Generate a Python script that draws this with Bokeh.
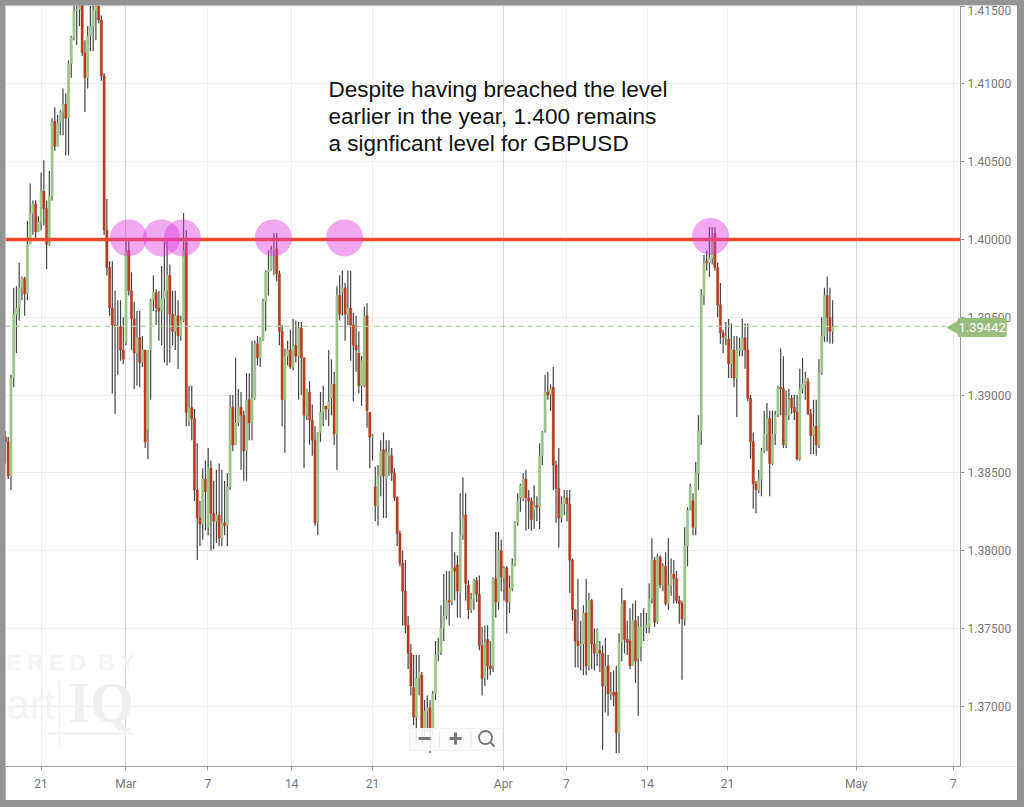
from bokeh.plotting import figure
from bokeh.layouts import column
from bokeh.models import Range1d, FixedTicker, PrintfTickFormatter, Grid, Label, LinearAxis
from bokeh.core.properties import value
from bokeh.embed import file_html
from bokeh.resources import INLINE

# GBPUSD 4-hour bars, prices in 1/10000
opens = [13873,13870,13848,13911,13952,13956,13969,13975,13965,13997,14017,14023,14005,14011,14031,14020,13997,14028,14076,14060,14075,14082,14087,14078,14113,14130,14147,14148,14160,14120,14104,14131,14137,14147,14150,14141,14105,14006,13982,13956,13945,13944,13944,13929,13934,13993,13967,13949,13927,13937,13921,13929,13878,13929,13961,13966,13956,13954,13962,13967,13977,13952,13941,13951,13938,13948,13998,13883,13892,13885,13839,13821,13817,13846,13815,13853,13824,13819,13823,13808,13818,13816,13841,13892,13868,13882,13892,13887,13864,13897,13882,13898,13933,13924,13936,13960,13979,13981,13993,13994,13978,13941,13897,13925,13929,13918,13932,13925,13943,13924,13887,13902,13884,13871,13818,13876,13889,13893,13891,13898,13907,13875,13964,13966,13969,13952,13956,13945,13932,13927,13906,13906,13951,13889,13873,13841,13829,13848,13865,13846,13861,13861,13850,13834,13811,13792,13774,13752,13734,13712,13693,13718,13720,13686,13697,13699,13686,13708,13734,13735,13750,13758,13768,13767,13789,13791,13773,13810,13823,13778,13762,13769,13781,13772,13739,13718,13743,13726,13726,13782,13767,13800,13783,13789,13767,13776,13791,13818,13834,13834,13846,13834,13832,13826,13829,13828,13861,13877,13902,13900,13905,13855,13840,13821,13830,13834,13830,13794,13762,13742,13739,13740,13760,13726,13768,13740,13734,13736,13734,13713,13726,13708,13709,13709,13683,13741,13768,13743,13742,13726,13755,13731,13738,13751,13751,13751,13769,13794,13754,13796,13778,13790,13766,13778,13785,13782,13768,13766,13756,13803,13826,13832,13815,13850,13877,13964,13986,13985,13988,14004,13982,13958,13940,13937,13936,13920,13929,13911,13929,13929,13937,13929,13898,13870,13843,13839,13846,13864,13875,13885,13856,13875,13887,13905,13904,13868,13887,13898,13892,13889,13859,13904,13907,13909,13888,13874,13880,13868,13914,13938,13964,13950,13941]
highs = [13877,13873,13913,13969,13970,13985,13976,13976,14012,14036,14025,14025,14015,14043,14051,14025,14044,14078,14085,14080,14083,14097,14094,14115,14131,14157,14159,14167,14163,14128,14137,14150,14163,14163,14160,14144,14107,14026,13986,13986,13967,13961,13961,13950,13999,13999,13979,13960,13954,13954,13938,13929,13929,13962,13977,13968,13967,13983,13999,13999,13984,13967,13967,13961,13951,14017,14006,13906,13906,13891,13869,13832,13853,13858,13866,13858,13845,13852,13856,13852,13845,13850,13900,13900,13924,13904,13902,13890,13914,13914,13935,13935,13938,13937,13962,13980,13993,13996,14004,14004,13980,13945,13930,13935,13942,13949,13948,13947,13947,13924,13904,13909,13894,13880,13876,13902,13906,13893,13929,13923,13915,13970,13977,13980,13972,13980,13980,13953,13951,13941,13925,13957,13959,13889,13875,13854,13855,13871,13876,13871,13871,13866,13853,13835,13813,13800,13794,13758,13740,13733,13733,13733,13722,13704,13707,13704,13710,13742,13744,13765,13785,13787,13787,13812,13799,13797,13837,13847,13837,13781,13773,13782,13783,13784,13751,13752,13752,13742,13783,13812,13812,13807,13790,13790,13784,13795,13819,13837,13843,13850,13852,13839,13834,13842,13835,13869,13877,13913,13915,13907,13918,13858,13866,13835,13839,13839,13839,13795,13762,13782,13755,13765,13782,13773,13769,13750,13750,13742,13739,13744,13733,13722,13723,13726,13747,13776,13768,13755,13763,13766,13768,13758,13760,13763,13760,13779,13808,13796,13798,13797,13792,13799,13808,13795,13794,13787,13771,13768,13815,13828,13843,13837,13857,13887,13968,13990,13993,14008,14008,14008,13985,13972,13942,13947,13949,13946,13938,13938,13937,13949,13946,13946,13900,13876,13845,13852,13866,13890,13895,13890,13890,13890,13906,13930,13925,13903,13904,13900,13900,13900,13917,13924,13915,13911,13891,13897,13897,13923,13950,13969,13976,13969,13961]
lows = [13856,13846,13839,13905,13927,13948,13961,13951,13961,13997,14003,13999,14005,14006,14009,13981,13996,14025,14057,14060,14067,14067,14054,14054,14104,14128,14125,14137,14118,14082,14097,14121,14121,14128,14139,14102,14003,13977,13951,13901,13888,13913,13922,13920,13932,13964,13929,13904,13906,13905,13918,13866,13859,13897,13954,13945,13935,13932,13921,13919,13921,13932,13929,13917,13935,13947,13880,13880,13871,13832,13794,13803,13807,13813,13810,13800,13801,13805,13803,13803,13810,13803,13839,13864,13868,13880,13852,13845,13845,13871,13871,13897,13919,13918,13935,13941,13964,13980,13977,13973,13932,13880,13863,13919,13917,13916,13921,13897,13900,13853,13884,13868,13861,13816,13810,13870,13880,13884,13880,13887,13868,13852,13948,13951,13935,13945,13922,13896,13915,13901,13893,13905,13879,13853,13858,13819,13816,13835,13821,13821,13848,13845,13832,13803,13790,13752,13747,13724,13707,13688,13678,13707,13675,13681,13684,13670,13681,13704,13729,13733,13742,13756,13752,13765,13768,13757,13757,13807,13768,13756,13760,13762,13767,13736,13707,13713,13717,13720,13722,13757,13762,13774,13768,13747,13760,13774,13790,13816,13825,13832,13813,13814,13813,13814,13819,13814,13855,13876,13897,13890,13839,13818,13802,13818,13823,13819,13773,13755,13725,13725,13723,13720,13720,13723,13724,13723,13726,13722,13672,13696,13694,13704,13700,13670,13670,13729,13734,13733,13724,13726,13715,13694,13729,13742,13747,13747,13766,13751,13753,13776,13774,13765,13762,13771,13766,13766,13753,13717,13752,13790,13826,13810,13810,13839,13868,13958,13980,13976,13984,13980,13950,13933,13927,13932,13911,13911,13905,13886,13925,13925,13917,13896,13859,13827,13824,13837,13835,13863,13864,13835,13855,13868,13886,13887,13866,13866,13884,13888,13884,13858,13858,13901,13897,13887,13862,13862,13861,13866,13913,13934,13934,13933,13933]
closes = [13870,13848,13911,13952,13956,13969,13975,13965,13997,14017,14023,14005,14011,14031,14020,13997,14028,14076,14060,14075,14082,14087,14078,14113,14130,14147,14148,14160,14120,14104,14131,14137,14147,14150,14141,14105,14006,13982,13956,13945,13944,13944,13929,13923,13992,13967,13949,13927,13937,13921,13929,13870,13929,13961,13966,13956,13954,13962,13967,13977,13952,13941,13951,13938,13948,13993,13889,13892,13885,13839,13821,13817,13846,13838,13853,13824,13819,13823,13808,13818,13816,13841,13892,13868,13882,13892,13887,13864,13897,13882,13898,13933,13924,13936,13960,13979,13981,13993,13994,13978,13941,13897,13925,13929,13918,13932,13925,13943,13924,13887,13904,13884,13871,13818,13876,13889,13893,13891,13896,13907,13875,13964,13952,13969,13952,13956,13945,13932,13929,13906,13922,13951,13890,13873,13874,13829,13848,13864,13848,13863,13863,13850,13834,13811,13792,13774,13752,13734,13713,13693,13718,13722,13686,13697,13699,13684,13708,13733,13735,13750,13758,13768,13767,13789,13787,13774,13810,13821,13779,13762,13769,13781,13772,13739,13718,13741,13726,13724,13782,13767,13800,13783,13789,13767,13776,13791,13818,13832,13842,13846,13834,13832,13820,13829,13828,13861,13876,13902,13900,13904,13855,13840,13821,13830,13834,13830,13794,13762,13742,13739,13740,13760,13726,13768,13740,13734,13749,13734,13713,13726,13708,13709,13707,13683,13741,13766,13743,13741,13726,13755,13729,13751,13751,13751,13752,13769,13794,13754,13796,13778,13790,13766,13778,13785,13782,13768,13766,13756,13803,13826,13841,13815,13850,13877,13964,13985,13985,13988,14001,13982,13958,13940,13937,13938,13920,13929,13911,13929,13930,13937,13929,13898,13870,13843,13839,13846,13864,13875,13885,13856,13875,13887,13905,13904,13868,13887,13897,13892,13889,13859,13904,13907,13911,13888,13874,13880,13868,13914,13938,13964,13950,13941,13944]

x_tick_pos = [13.0, 43.9, 73.9, 104.5, 134.0, 181.7, 204.8, 234.3, 263.6, 310.6, 346.1]
x_tick_labels = ["21", "Mar", "7", "14", "21", "Apr", "7", "14", "21", "May", "7"]
month_ticks = [43.9, 181.7, 310.6]
y_ticks = [1.37, 1.375, 1.38, 1.385, 1.39, 1.395, 1.40, 1.405, 1.41, 1.415]
level = 1.40
last_price = 1.39442
touch_x = [44.9, 57.0, 64.6, 97.8, 123.8, 257.4]
touch_y = [1.4001, 1.4001, 1.4001, 1.4001, 1.4001, 1.4002]
note_lines = ["Despite having breached the level", "earlier in the year, 1.400 remains", "a signficant level for GBPUSD"]

PX = 2.739
def X(px): return (px - 5) / PX
def Y(py): return 1.40 - (py - 239) / 15560

p = figure(width=1012, height=795, x_range=Range1d(0, X(1017)), y_range=Range1d(Y(766), Y(5)),
           toolbar_location=None, output_backend="svg", y_axis_location=None,
           min_border_left=0, min_border_top=0, min_border_right=0, min_border_bottom=34,
           background_fill_color="white", border_fill_color="white", outline_line_color=None,
           margin=(5, 7, 7, 5))

# price axis stands at the chart's right edge, the area beyond it holds only labels
yax = LinearAxis(ticker=FixedTicker(ticks=y_ticks), formatter=PrintfTickFormatter(format="%.5f"),
                 fixed_location=X(960))
p.add_layout(yax, "right")
p.xaxis.ticker = FixedTicker(ticks=x_tick_pos)
p.xaxis.major_label_overrides = {k: v for k, v in zip(x_tick_pos, x_tick_labels)}
p.xaxis.bounds = (0, X(960))
for ax in (p.xaxis[0], yax):
    ax.axis_line_color = "#999999"
    ax.major_tick_line_color = "#999999"
    ax.major_tick_out = 4
    ax.major_tick_in = 0
    ax.minor_tick_line_color = None
    ax.major_label_text_font = "Roboto"
    ax.major_label_text_font_size = "12px"
    ax.major_label_text_color = "#777777"
    ax.major_label_standoff = 3
p.xaxis.major_label_standoff = 6

p.xgrid[0].ticker = FixedTicker(ticks=[t for t in x_tick_pos if t not in month_ticks])
p.xgrid[0].grid_line_color = "#eeeeee"
p.ygrid[0].ticker = FixedTicker(ticks=y_ticks)
p.ygrid[0].grid_line_color = "#eeeeee"
p.add_layout(Grid(dimension=0, ticker=FixedTicker(ticks=month_ticks), grid_line_color="#d4d4d4"))
p.quad(left=[X(960)], right=[X(1017)], top=[Y(5)], bottom=[Y(766)], fill_color="white", line_color=None)

# faint watermark
wm = "#f4f4f4"
p.text([X(6)], [Y(662)], text=["E R E D \u00a0B Y"], text_font=value("Liberation Sans"), text_font_style="bold",
       text_font_size="22px", text_color=wm, text_baseline="middle")
p.text([X(6)], [Y(704)], text=["art"], text_font=value("Liberation Sans"), text_font_size="42px",
       text_color=wm, text_baseline="middle")
p.text([X(68)], [Y(702)], text=["IQ"], text_font=value("Liberation Serif"), text_font_style="bold",
       text_font_size="56px", text_color="#efefef", text_baseline="middle")
p.segment([X(59)], [Y(680)], [X(59)], [Y(745)], line_color=wm, line_width=2)
p.segment([X(47)], [Y(733)], [X(133)], [Y(733)], line_color=wm, line_width=3)

# candles
idx = list(range(len(closes)))
price = lambda a: [v / 10000 for v in a]
col = ["#9dc486" if c >= o else "#b83c1e" for o, c in zip(opens, closes)]
p.segment(idx, price(highs), idx, price(lows), line_color="#444444", line_width=1.2)
p.vbar(x=idx, top=price(opens), bottom=price(closes), width=0.85, fill_color=col, line_color=col, line_width=0.4)

# levels
p.line([0, X(960)], [level, level], line_color="#ef4a2a", line_width=3.5)
p.line([0, X(950)], [last_price, last_price], line_color="#b4d6a2", line_width=1.3, line_dash="5 4")
p.scatter(touch_x, touch_y, size=37, fill_color="#de3ede", fill_alpha=0.45, line_color=None)

for i, t in enumerate(note_lines):
    p.text([X(328)], [Y(89 + 27 * i)], text=[t], text_font=value("Liberation Sans"), text_font_size="22.5px",
           text_color="#111111", text_baseline="middle")

# zoom control
p.quad(left=[X(409)], right=[X(502)], top=[Y(728)], bottom=[Y(750)], fill_color="#fafafa", fill_alpha=0.88,
       line_color="#f0f0f0")
p.segment([X(439), X(470.5)], [Y(731), Y(731)], [X(439), X(470.5)], [Y(747), Y(747)], line_color="#e6e6e6")
p.segment([X(418), X(449), X(455)], [Y(738), Y(738), Y(732)], [X(430), X(461), X(455)], [Y(738), Y(738), Y(744)],
          line_color="#757575", line_width=3)
p.scatter([X(485)], [Y(737)], size=13, fill_color=None, line_color="#757575", line_width=1.8)
p.segment([X(490)], [Y(742)], [X(494)], [Y(746)], line_color="#757575", line_width=2)

# price tag
p.add_layout(Label(x=X(957), y=Y(327), text="1.39442", text_color="white", text_font="Roboto",
                   text_font_size="13px", text_align="left", text_baseline="middle",
                   background_fill_color="#98bd7c", padding=(1, 5), border_radius=2, level="overlay"))
p.scatter([X(954)], [Y(327)], marker="triangle", angle=1.5708, size=14, fill_color="#98bd7c", line_color=None,
          level="overlay")

page = column(p, styles={"background": "#949494"})
open("out.html", "w").write(file_html(page, INLINE))
